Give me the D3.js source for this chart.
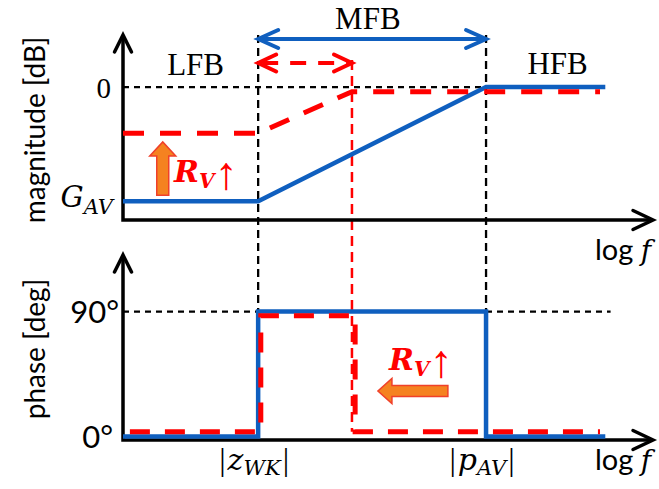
<!DOCTYPE html>
<html><head><meta charset="utf-8">
<script src="https://cdn.jsdelivr.net/npm/d3@7"></script>
<style>body{margin:0;background:#fff}</style>
</head><body><svg id="c" width="659" height="489"></svg>
<script>
// ---------- data ----------
const bandLabels = ["LFB", "MFB", "HFB"];
const bandPos = [13.7, 46.2, 82.0];          // label centres along log f
const breakPos = [25.5, 68.5];               // |z_WK|, |p_AV|
const breakLabels = [["z", "WK"], ["p", "AV"]];
const redBreakPos = 43.2;                    // shifted pole after R_V increase
const magTickVals = [0, -39.5];
const magTickLabels = ["0", "G|AV"];
const phaseTickVals = [0, 90];
const phaseTickLabels = ["0°", "90°"];
const magBlueX = [0, 25.5, 68.5, 91];
const magBlueY = [-39.5, -39.5, 0, 0];
const magRedX = [0, 25.5, 43.2, 90];
const magRedY = [-16, -16, -1.6, -1.6];
const phaseBlueX = [0, 25.5, 25.5, 68.5, 68.5, 91];
const phaseBlueY = [0, 0, 90, 90, 0, 0];
const phaseRedX = [1.3, 26.0, 26.0, 43.8, 43.8, 90];
const phaseRedY = [3.5, 3.5, 87, 87, 3.5, 3.5];

// ---------- setup ----------
const BLUE = "#0F5FBF", RED = "#FF0000", ORANGE = "#F58220";
const svg = d3.select("#c");
const x = d3.scaleLinear().domain([0, 100]).range([123, 653]);
const yMag = d3.scaleLinear().domain([-46, 18]).range([220, 35]);
const yPh = d3.scaleLinear().domain([-2.5, 130.7]).range([440, 255]);
const SERIF = "'Liberation Serif', serif";
const MATH = "'DejaVu Serif', serif";
const SANS = "Lato, 'Open Sans', sans-serif";

function line(g, pts, color, w, dash) {
  const p = g.append("path").attr("d", d3.line()(pts)).attr("fill", "none")
    .attr("stroke", color).attr("stroke-width", w);
  if (dash) p.attr("stroke-dasharray", dash);
  return p;
}
function head(g, tx, ty, ang, back, spread, color, w) {
  const c = Math.cos(ang), s = Math.sin(ang);
  const p1 = [tx - back * c - spread * s, ty - back * s + spread * c];
  const p2 = [tx - back * c + spread * s, ty - back * s - spread * c];
  g.append("path").attr("d", d3.line()([p1, [tx, ty], p2])).attr("fill", "none")
    .attr("stroke", color).attr("stroke-width", w).attr("stroke-linejoin", "miter")
    .attr("stroke-linecap", "round");
}

const guides = svg.append("g");
// black dashed guides
breakPos.forEach(b => line(guides, [[x(b), yMag.range()[1]], [x(b), yPh(0)]], "#000", 2.3, "8,5"));
line(guides, [[x(0), yMag(0)], [x(breakPos[1]), yMag(0)]], "#000", 2.3, "6,5");
line(guides, [[x(0), yPh(90)], [x(92), yPh(90)]], "#000", 2.3, "6,5");
// red thin dashed guide
line(guides, [[x(redBreakPos), 60], [x(redBreakPos), yPh(3.5)]], RED, 2.5, "10,6");

// axes
const ax = svg.append("g");
function axisLines(yScale) {
  const y0 = yScale.range()[0], y1 = yScale.range()[1];
  line(ax, [[x(0), y1], [x(0), y0], [x(100), y0]], "#000", 3.5).attr("stroke-linejoin", "miter");
  head(ax, x(0), y1, -Math.PI / 2, 17, 8.5, "#000", 3.5);
  head(ax, x(100), y0, 0, 20, 9.5, "#000", 3.5);
}
axisLines(yMag);
axisLines(yPh);

// tick labels via d3 axes
const magAxis = svg.append("g").attr("transform", `translate(${x(0)},0)`)
  .call(d3.axisLeft(yMag).tickValues(magTickVals).tickSize(0).tickFormat((d, i) => magTickLabels[i]));
magAxis.select(".domain").remove();
magAxis.selectAll("text").each(function (d, i) {
  const t = d3.select(this).attr("fill", "#000").attr("dy", null);
  const lab = magTickLabels[i];
  if (lab.includes("|")) {
    const [a, b] = lab.split("|");
    t.text(null).attr("x", -10).attr("y", 5).attr("font-family", MATH).attr("font-style", "italic")
      .attr("font-size", 29);
    t.append("tspan").text(a);
    t.append("tspan").attr("font-size", 21).attr("dy", 7).text(b);
  } else {
    t.attr("x", -12).attr("y", 10).attr("font-family", SERIF).attr("font-size", 29);
  }
});
const phAxis = svg.append("g").attr("transform", `translate(${x(0)},0)`)
  .call(d3.axisLeft(yPh).tickValues(phaseTickVals).tickSize(0).tickFormat((d, i) => phaseTickLabels[i]));
phAxis.select(".domain").remove();
phAxis.selectAll("text").attr("fill", "#000").attr("dy", null).attr("y", 11)
  .attr("font-family", SANS).attr("font-size", 31)
  .attr("x", (d) => d === 90 ? -4 : -10);

// curves
const curves = svg.append("g");
line(curves, magBlueX.map((v, i) => [x(v), yMag(magBlueY[i])]), BLUE, 4.5);
line(curves, phaseBlueX.map((v, i) => [x(v), yPh(phaseBlueY[i])]), BLUE, 4.5);
line(curves, magRedX.map((v, i) => [x(v), yMag(magRedY[i])]), RED, 5, "21,16");
line(curves, phaseRedX.map((v, i) => [x(v), yPh(phaseRedY[i])]), RED, 5, "20,15");

// band arrows
const yBlueArrow = 39, yRedArrow = 63;
line(curves, [[x(breakPos[0]) + 2, yBlueArrow], [x(breakPos[1]) - 2, yBlueArrow]], BLUE, 3.8);
head(curves, x(breakPos[0]), yBlueArrow, Math.PI, 20, 9, BLUE, 4);
head(curves, x(breakPos[1]), yBlueArrow, 0, 20, 9, BLUE, 4);
line(curves, [[x(breakPos[0]) + 4, yRedArrow], [x(redBreakPos) - 4, yRedArrow]], RED, 4, "16,12");
head(curves, x(breakPos[0]), yRedArrow, Math.PI, 18, 8.5, RED, 4);
head(curves, x(redBreakPos), yRedArrow, 0, 18, 8.5, RED, 4);

// band labels
const labs = svg.append("g").attr("font-family", SERIF).attr("font-size", 31).attr("fill", "#000")
  .attr("text-anchor", "middle");
labs.append("text").attr("x", x(bandPos[0])).attr("y", 75).text(bandLabels[0]);
labs.append("text").attr("x", x(bandPos[1])).attr("y", 29).text(bandLabels[1]);
labs.append("text").attr("x", x(bandPos[2])).attr("y", 74).text(bandLabels[2]);

// y titles
svg.append("text").attr("transform", "translate(45,130) rotate(-90)").attr("text-anchor", "middle")
  .attr("font-family", SANS).attr("font-size", 28).text("magnitude [dB]");
svg.append("text").attr("transform", "translate(45,349) rotate(-90)").attr("text-anchor", "middle")
  .attr("font-family", SANS).attr("font-size", 28).text("phase [deg]");

// log f labels
[yMag.range()[0] + 40, yPh.range()[0] + 30].forEach(yb => {
  const t = svg.append("text").attr("x", 595).attr("y", yb);
  t.append("tspan").attr("font-family", SANS).attr("font-size", 29).text("log ");
  t.append("tspan").attr("font-family", MATH).attr("font-style", "italic").attr("font-size", 28).text("f");
});

// break labels
breakPos.forEach((b, i) => {
  const t = svg.append("text").attr("x", x(b) - 4).attr("y", 470).attr("text-anchor", "middle");
  t.append("tspan").attr("font-family", SERIF).attr("font-size", 32).text("|");
  t.append("tspan").attr("font-family", MATH).attr("font-style", "italic").attr("font-size", 30).attr("dx", 2).text(breakLabels[i][0]);
  t.append("tspan").attr("font-family", MATH).attr("font-style", "italic").attr("font-size", 21).attr("dy", 5).text(breakLabels[i][1]);
  t.append("tspan").attr("font-family", SERIF).attr("font-size", 32).attr("dy", -5).attr("dx", 2).text("|");
});

// R_V annotations
function rv(x0, yb) {
  const t = svg.append("text").attr("x", x0).attr("y", yb).attr("fill", RED);
  t.append("tspan").attr("font-family", MATH).attr("font-style", "italic").attr("font-weight", "bold")
    .attr("font-size", 30).text("R");
  t.append("tspan").attr("font-family", MATH).attr("font-style", "italic").attr("font-weight", "bold")
    .attr("font-size", 20).attr("dy", 6).text("V");
  t.append("tspan").attr("font-family", SERIF).attr("font-size", 46).attr("dy", 1).text("↑");
}
rv(174, 182);
rv(389, 370);

// orange arrows
const ann = svg.append("g").attr("fill", ORANGE).attr("stroke", "#F0402A").attr("stroke-width", 1.5);
{
  const cx = x(7.5), yb = yMag(-37.4), yt = yMag(-19.0);
  const hw = 6, hh = 13, hs = 14;
  ann.append("path").attr("d", d3.line()([[cx - hw, yb], [cx - hw, yt + hs], [cx - hh, yt + hs], [cx, yt],
    [cx + hh, yt + hs], [cx + hw, yt + hs], [cx + hw, yb]]) + "Z");
}
{
  const cy = yPh(32.8), xt = x(48.1), xe = x(61.3);
  const hw = 5.5, hh = 12.5, hs = 14;
  ann.append("path").attr("d", d3.line()([[xe, cy - hw], [xt + hs, cy - hw], [xt + hs, cy - hh], [xt, cy],
    [xt + hs, cy + hh], [xt + hs, cy + hw], [xe, cy + hw]]) + "Z");
}
</script></body></html>
